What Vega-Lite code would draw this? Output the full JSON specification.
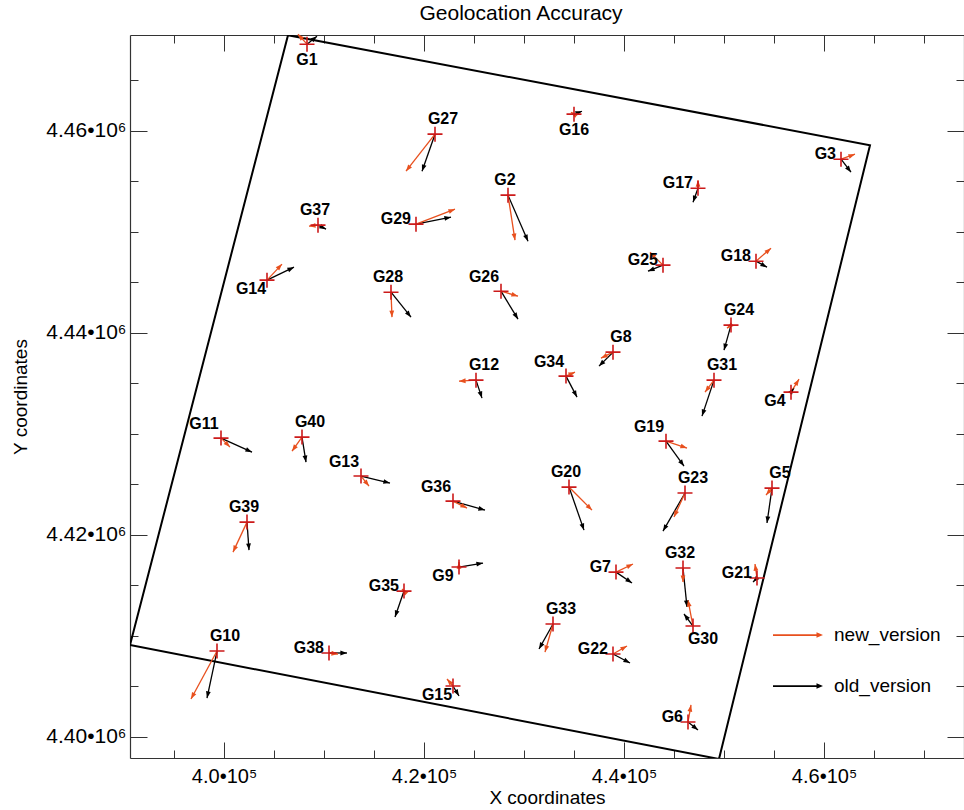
{
  "$schema": "https://vega.github.io/schema/vega-lite/v6.json",
  "width": 834,
  "height": 723,
  "autosize": {"type": "none"},
  "padding": {"left": 130, "top": 35, "right": 0, "bottom": 52},
  "background": "#ffffff",
  "title": {"text": "Geolocation Accuracy", "font": "Liberation Sans", "fontSize": 21, "fontWeight": "normal", "color": "#000000", "anchor": "middle", "dx": -26, "offset": 9},
  "config": {"view": {"stroke": null}, "font": "Liberation Sans"},
  "datasets": {
    "frame": [
      {"i": 0, "x": 406400, "y": 4469480},
      {"i": 1, "x": 464600, "y": 4458590},
      {"i": 2, "x": 449500, "y": 4397800},
      {"i": 3, "x": 390600, "y": 4409090},
      {"i": 4, "x": 406400, "y": 4469480}
    ],
    "gcp": [
      {"g": "G1", "x": 408300, "y": 4468590, "side": "S"},
      {"g": "G2", "x": 428400, "y": 4453640, "side": "N"},
      {"g": "G3", "x": 461700, "y": 4457200, "side": "W"},
      {"g": "G4", "x": 456700, "y": 4434130, "side": "SW"},
      {"g": "G5", "x": 454800, "y": 4424630, "side": "NE"},
      {"g": "G6", "x": 446400, "y": 4401460, "side": "W"},
      {"g": "G7", "x": 439200, "y": 4416310, "side": "W"},
      {"g": "G8", "x": 438900, "y": 4438090, "side": "NE"},
      {"g": "G9", "x": 423500, "y": 4416810, "side": "SW"},
      {"g": "G10", "x": 399300, "y": 4408490, "side": "NE"},
      {"g": "G11", "x": 399700, "y": 4429580, "side": "NW"},
      {"g": "G12", "x": 425200, "y": 4435320, "side": "NE"},
      {"g": "G13", "x": 413700, "y": 4425820, "side": "NW"},
      {"g": "G14", "x": 404300, "y": 4445220, "side": "SW"},
      {"g": "G15", "x": 422900, "y": 4405030, "side": "SW"},
      {"g": "G16", "x": 435000, "y": 4461660, "side": "S"},
      {"g": "G17", "x": 447400, "y": 4454330, "side": "W"},
      {"g": "G18", "x": 453200, "y": 4447100, "side": "W"},
      {"g": "G19", "x": 444200, "y": 4429280, "side": "NW"},
      {"g": "G20", "x": 434500, "y": 4424730, "side": "N"},
      {"g": "G21", "x": 453300, "y": 4415720, "side": "W"},
      {"g": "G22", "x": 438900, "y": 4408200, "side": "W"},
      {"g": "G23", "x": 446100, "y": 4424140, "side": "NE"},
      {"g": "G24", "x": 450700, "y": 4440770, "side": "NE"},
      {"g": "G25", "x": 443900, "y": 4446710, "side": "W"},
      {"g": "G26", "x": 427700, "y": 4444130, "side": "NW"},
      {"g": "G27", "x": 421100, "y": 4459680, "side": "NE"},
      {"g": "G28", "x": 416700, "y": 4444030, "side": "N"},
      {"g": "G29", "x": 419200, "y": 4450770, "side": "W"},
      {"g": "G30", "x": 446900, "y": 4410970, "side": "SE"},
      {"g": "G31", "x": 449000, "y": 4435320, "side": "NE"},
      {"g": "G32", "x": 445900, "y": 4416710, "side": "N"},
      {"g": "G33", "x": 432900, "y": 4411170, "side": "NE"},
      {"g": "G34", "x": 434200, "y": 4435720, "side": "NW"},
      {"g": "G35", "x": 418000, "y": 4414430, "side": "W"},
      {"g": "G36", "x": 422900, "y": 4423340, "side": "NW"},
      {"g": "G37", "x": 409400, "y": 4450670, "side": "N"},
      {"g": "G38", "x": 410500, "y": 4408300, "side": "W"},
      {"g": "G39", "x": 402300, "y": 4421260, "side": "N"},
      {"g": "G40", "x": 407800, "y": 4429680, "side": "NE"}
    ],
    "arrows": [
      {"g": "G1", "v": "old_version", "x": 408300, "y": 4468590, "tx": 409300, "ty": 4469380},
      {"g": "G2", "v": "old_version", "x": 428400, "y": 4453640, "tx": 430400, "ty": 4449080},
      {"g": "G3", "v": "old_version", "x": 461700, "y": 4457200, "tx": 462700, "ty": 4455910},
      {"g": "G4", "v": "old_version", "x": 456700, "y": 4434130, "tx": 457000, "ty": 4434530},
      {"g": "G5", "v": "old_version", "x": 454800, "y": 4424630, "tx": 454300, "ty": 4421170},
      {"g": "G6", "v": "old_version", "x": 446400, "y": 4401460, "tx": 447400, "ty": 4400670},
      {"g": "G7", "v": "old_version", "x": 439200, "y": 4416310, "tx": 440800, "ty": 4415230},
      {"g": "G8", "v": "old_version", "x": 438900, "y": 4438090, "tx": 437500, "ty": 4436710},
      {"g": "G9", "v": "old_version", "x": 423500, "y": 4416810, "tx": 425900, "ty": 4417200},
      {"g": "G10", "v": "old_version", "x": 399300, "y": 4408490, "tx": 398300, "ty": 4403840},
      {"g": "G11", "v": "old_version", "x": 399700, "y": 4429580, "tx": 402800, "ty": 4428190},
      {"g": "G12", "v": "old_version", "x": 425200, "y": 4435320, "tx": 425800, "ty": 4433540},
      {"g": "G13", "v": "old_version", "x": 413700, "y": 4425820, "tx": 416600, "ty": 4425130},
      {"g": "G14", "v": "old_version", "x": 404300, "y": 4445220, "tx": 407000, "ty": 4446510},
      {"g": "G15", "v": "old_version", "x": 422900, "y": 4405030, "tx": 423500, "ty": 4404040},
      {"g": "G16", "v": "old_version", "x": 435000, "y": 4461660, "tx": 435800, "ty": 4461950},
      {"g": "G17", "v": "old_version", "x": 447400, "y": 4454330, "tx": 446900, "ty": 4452940},
      {"g": "G18", "v": "old_version", "x": 453200, "y": 4447100, "tx": 454300, "ty": 4446510},
      {"g": "G19", "v": "old_version", "x": 444200, "y": 4429280, "tx": 446000, "ty": 4426810},
      {"g": "G20", "v": "old_version", "x": 434500, "y": 4424730, "tx": 436000, "ty": 4420470},
      {"g": "G21", "v": "old_version", "x": 453300, "y": 4415720, "tx": 452900, "ty": 4415320},
      {"g": "G22", "v": "old_version", "x": 438900, "y": 4408200, "tx": 440600, "ty": 4407310},
      {"g": "G23", "v": "old_version", "x": 446100, "y": 4424140, "tx": 443900, "ty": 4420370},
      {"g": "G24", "v": "old_version", "x": 450700, "y": 4440770, "tx": 450000, "ty": 4438290},
      {"g": "G25", "v": "old_version", "x": 443900, "y": 4446710, "tx": 442400, "ty": 4446110},
      {"g": "G26", "v": "old_version", "x": 427700, "y": 4444130, "tx": 429400, "ty": 4441360},
      {"g": "G27", "v": "old_version", "x": 421100, "y": 4459680, "tx": 419800, "ty": 4456010},
      {"g": "G28", "v": "old_version", "x": 416700, "y": 4444030, "tx": 418700, "ty": 4441560},
      {"g": "G29", "v": "old_version", "x": 419200, "y": 4450770, "tx": 422700, "ty": 4451460},
      {"g": "G30", "v": "old_version", "x": 446900, "y": 4410970, "tx": 446000, "ty": 4412160},
      {"g": "G31", "v": "old_version", "x": 449000, "y": 4435320, "tx": 447800, "ty": 4431760},
      {"g": "G32", "v": "old_version", "x": 445900, "y": 4416710, "tx": 446300, "ty": 4412850},
      {"g": "G33", "v": "old_version", "x": 432900, "y": 4411170, "tx": 431500, "ty": 4408690},
      {"g": "G34", "v": "old_version", "x": 434200, "y": 4435720, "tx": 435300, "ty": 4433640},
      {"g": "G35", "v": "old_version", "x": 418000, "y": 4414430, "tx": 417100, "ty": 4411860},
      {"g": "G36", "v": "old_version", "x": 422900, "y": 4423340, "tx": 426100, "ty": 4422450},
      {"g": "G37", "v": "old_version", "x": 409400, "y": 4450670, "tx": 410200, "ty": 4450270},
      {"g": "G38", "v": "old_version", "x": 410500, "y": 4408300, "tx": 412300, "ty": 4408300},
      {"g": "G39", "v": "old_version", "x": 402300, "y": 4421260, "tx": 402500, "ty": 4418490},
      {"g": "G40", "v": "old_version", "x": 407800, "y": 4429680, "tx": 408200, "ty": 4427200},
      {"g": "G1", "v": "new_version", "x": 408300, "y": 4468590, "tx": 407400, "ty": 4469580},
      {"g": "G2", "v": "new_version", "x": 428400, "y": 4453640, "tx": 429100, "ty": 4449180},
      {"g": "G3", "v": "new_version", "x": 461700, "y": 4457200, "tx": 463100, "ty": 4457700},
      {"g": "G4", "v": "new_version", "x": 456700, "y": 4434130, "tx": 457500, "ty": 4435420},
      {"g": "G5", "v": "new_version", "x": 454800, "y": 4424630, "tx": 454200, "ty": 4423940},
      {"g": "G6", "v": "new_version", "x": 446400, "y": 4401460, "tx": 446700, "ty": 4403150},
      {"g": "G7", "v": "new_version", "x": 439200, "y": 4416310, "tx": 440900, "ty": 4417110},
      {"g": "G8", "v": "new_version", "x": 438900, "y": 4438090, "tx": 437700, "ty": 4437500},
      {"g": "G9", "v": "new_version", "x": 423500, "y": 4416810, "tx": 423500, "ty": 4417300},
      {"g": "G10", "v": "new_version", "x": 399300, "y": 4408490, "tx": 396700, "ty": 4403740},
      {"g": "G11", "v": "new_version", "x": 399700, "y": 4429580, "tx": 400600, "ty": 4428690},
      {"g": "G12", "v": "new_version", "x": 425200, "y": 4435320, "tx": 423500, "ty": 4435220},
      {"g": "G13", "v": "new_version", "x": 413700, "y": 4425820, "tx": 414500, "ty": 4424830},
      {"g": "G14", "v": "new_version", "x": 404300, "y": 4445220, "tx": 405800, "ty": 4446810},
      {"g": "G15", "v": "new_version", "x": 422900, "y": 4405030, "tx": 422300, "ty": 4405720},
      {"g": "G16", "v": "new_version", "x": 435000, "y": 4461660, "tx": 434700, "ty": 4461850},
      {"g": "G17", "v": "new_version", "x": 447400, "y": 4454330, "tx": 447400, "ty": 4455120},
      {"g": "G18", "v": "new_version", "x": 453200, "y": 4447100, "tx": 454700, "ty": 4448390},
      {"g": "G19", "v": "new_version", "x": 444200, "y": 4429280, "tx": 446300, "ty": 4428590},
      {"g": "G20", "v": "new_version", "x": 434500, "y": 4424730, "tx": 436800, "ty": 4422450},
      {"g": "G21", "v": "new_version", "x": 453300, "y": 4415720, "tx": 453100, "ty": 4417110},
      {"g": "G22", "v": "new_version", "x": 438900, "y": 4408200, "tx": 440300, "ty": 4408990},
      {"g": "G23", "v": "new_version", "x": 446100, "y": 4424140, "tx": 445000, "ty": 4421760},
      {"g": "G24", "v": "new_version", "x": 450700, "y": 4440770, "tx": 450300, "ty": 4440470},
      {"g": "G25", "v": "new_version", "x": 443900, "y": 4446710, "tx": 442600, "ty": 4447990},
      {"g": "G26", "v": "new_version", "x": 427700, "y": 4444130, "tx": 429400, "ty": 4443640},
      {"g": "G27", "v": "new_version", "x": 421100, "y": 4459680, "tx": 418200, "ty": 4456010},
      {"g": "G28", "v": "new_version", "x": 416700, "y": 4444030, "tx": 416800, "ty": 4441560},
      {"g": "G29", "v": "new_version", "x": 419200, "y": 4450770, "tx": 423100, "ty": 4452250},
      {"g": "G30", "v": "new_version", "x": 446900, "y": 4410970, "tx": 446400, "ty": 4413540},
      {"g": "G31", "v": "new_version", "x": 449000, "y": 4435320, "tx": 448100, "ty": 4434130},
      {"g": "G32", "v": "new_version", "x": 445900, "y": 4416710, "tx": 445900, "ty": 4415320},
      {"g": "G33", "v": "new_version", "x": 432900, "y": 4411170, "tx": 432100, "ty": 4408390},
      {"g": "G34", "v": "new_version", "x": 434200, "y": 4435720, "tx": 435100, "ty": 4436110},
      {"g": "G35", "v": "new_version", "x": 418000, "y": 4414430, "tx": 417800, "ty": 4414630},
      {"g": "G36", "v": "new_version", "x": 422900, "y": 4423340, "tx": 424300, "ty": 4422650},
      {"g": "G37", "v": "new_version", "x": 409400, "y": 4450670, "tx": 408500, "ty": 4450570},
      {"g": "G38", "v": "new_version", "x": 410500, "y": 4408300, "tx": 411400, "ty": 4408200},
      {"g": "G39", "v": "new_version", "x": 402300, "y": 4421260, "tx": 400900, "ty": 4418290},
      {"g": "G40", "v": "new_version", "x": 407800, "y": 4429680, "tx": 406800, "ty": 4428290}
    ]
  },
  "resolve": {"axis": {"x": "independent", "y": "independent"}},
  "layer": [
    {
      "data": {"name": "frame"},
      "mark": {"type": "line", "color": "#000000", "strokeWidth": 2, "clip": true},
      "encoding": {
        "x": {"field": "x", "type": "quantitative", "scale": {"domain": [390600, 474000], "zero": false, "nice": false},
          "axis": {"orient": "bottom", "values": [395000, 400000, 405000, 410000, 415000, 420000, 425000, 430000, 435000, 440000, 445000, 450000, 455000, 460000, 465000, 470000],
            "labelExpr": "datum.value % 20000 === 0 ? format(datum.value / 100000, '.1f') + '•10⁵' : ''",
            "tickSize": {"condition": {"test": "datum.value % 20000 === 0", "value": -16}, "value": -8},
            "tickColor": "#333333", "tickWidth": 1, "domainColor": "#333333", "domainWidth": 1.2, "grid": false,
            "labelFont": "Liberation Sans", "labelFontSize": 20, "labelColor": "#000000", "labelPadding": 24, "labelFlush": false, "labelOverlap": false,
            "title": "X coordinates", "titleFont": "Liberation Sans", "titleFontSize": 19, "titleFontWeight": "normal", "titleColor": "#000000", "titlePadding": -6}},
        "y": {"field": "y", "type": "quantitative", "scale": {"domain": [4397900, 4469500], "zero": false, "nice": false},
          "axis": {"orient": "left", "values": [4400000, 4405000, 4410000, 4415000, 4420000, 4425000, 4430000, 4435000, 4440000, 4445000, 4450000, 4455000, 4460000, 4465000],
            "labelExpr": "datum.value % 20000 === 0 ? format(datum.value / 1000000, '.2f') + '•10⁶' : ''",
            "tickSize": {"condition": {"test": "datum.value % 20000 === 0", "value": -17}, "value": -8},
            "tickColor": "#333333", "tickWidth": 1, "domainColor": "#333333", "domainWidth": 1.2, "grid": false,
            "labelFont": "Liberation Sans", "labelFontSize": 21, "labelColor": "#000000", "labelPadding": 21, "labelFlush": false, "labelOverlap": false,
            "title": "Y coordinates", "titleFont": "Liberation Sans", "titleFontSize": 19, "titleFontWeight": "normal", "titleColor": "#000000", "titlePadding": 15}},
        "order": {"field": "i", "type": "quantitative"}
      }
    },
    {
      "data": {"name": "arrows"},
      "mark": {"type": "rule", "strokeWidth": 1.3},
      "encoding": {
        "x": {"field": "x", "type": "quantitative", "scale": {"domain": [390600, 474000], "zero": false, "nice": false}, "axis": null},
        "y": {"field": "y", "type": "quantitative", "scale": {"domain": [4397900, 4469500], "zero": false, "nice": false}, "axis": null},
        "x2": {"field": "tx"},
        "y2": {"field": "ty"},
        "color": {"field": "v", "type": "nominal", "scale": {"domain": ["new_version", "old_version"], "range": ["#e8501e", "#000000"]},
          "legend": {"orient": "none", "legendX": 643, "legendY": 575, "title": null, "symbolType": "M-1,-0.035H0.74V-0.11L1,0L0.74,0.11V0.035H-1Z", "symbolSize": 2500, "symbolStrokeWidth": 0, "symbolOpacity": 1, "labelFont": "Liberation Sans", "labelFontSize": 19, "labelColor": "#000000", "labelOffset": 11, "rowPadding": 16}}
      }
    },
    {
      "data": {"name": "arrows"},
      "transform": [{"calculate": "atan2((datum.tx - datum.x) / 100, (datum.ty - datum.y) / 99) * 180 / PI", "as": "angle"}],
      "mark": {"type": "point", "shape": "M0,0L-0.8,2.2L0.8,2.2Z", "size": 36, "filled": true, "opacity": 1, "strokeWidth": 0},
      "encoding": {
        "x": {"field": "tx", "type": "quantitative", "scale": {"domain": [390600, 474000], "zero": false, "nice": false}, "axis": null},
        "y": {"field": "ty", "type": "quantitative", "scale": {"domain": [4397900, 4469500], "zero": false, "nice": false}, "axis": null},
        "angle": {"field": "angle", "type": "quantitative", "scale": null},
        "color": {"field": "v", "type": "nominal", "scale": {"domain": ["new_version", "old_version"], "range": ["#e8501e", "#000000"]},
          "legend": {"orient": "none", "legendX": 643, "legendY": 575, "title": null, "symbolType": "M-1,-0.035H0.74V-0.11L1,0L0.74,0.11V0.035H-1Z", "symbolSize": 2500, "symbolStrokeWidth": 0, "symbolOpacity": 1, "labelFont": "Liberation Sans", "labelFontSize": 19, "labelColor": "#000000", "labelOffset": 11, "rowPadding": 16}}
      }
    },
    {
      "data": {"name": "gcp"},
      "mark": {"type": "point", "shape": "M-1,0H1M0,-1V1", "size": 225, "filled": false, "opacity": 1, "color": "#cc1a1a", "strokeWidth": 1.6},
      "encoding": {
        "x": {"field": "x", "type": "quantitative", "scale": {"domain": [390600, 474000], "zero": false, "nice": false},
          "axis": {"orient": "top", "values": [395000, 400000, 405000, 410000, 415000, 420000, 425000, 430000, 435000, 440000, 445000, 450000, 455000, 460000, 465000, 470000],
            "labels": false, "title": null, "grid": false,
            "tickSize": {"condition": {"test": "datum.value % 20000 === 0", "value": -16}, "value": -8},
            "tickColor": "#333333", "tickWidth": 1, "domainColor": "#333333", "domainWidth": 1.2}},
        "y": {"field": "y", "type": "quantitative", "scale": {"domain": [4397900, 4469500], "zero": false, "nice": false},
          "axis": {"orient": "right", "values": [4400000, 4405000, 4410000, 4415000, 4420000, 4425000, 4430000, 4435000, 4440000, 4445000, 4450000, 4455000, 4460000, 4465000],
            "labels": false, "title": null, "grid": false,
            "tickSize": {"condition": {"test": "datum.value % 20000 === 0", "value": -17}, "value": -8},
            "tickColor": "#333333", "tickWidth": 1, "domainColor": "#333333", "domainWidth": 1.2}}
      }
    },
    {
      "data": {"name": "gcp"},
      "transform": [{"filter": "datum.side === 'N'"}],
      "mark": {"type": "text", "font": "Liberation Sans", "fontSize": 16, "fontWeight": "bold", "color": "#000000", "align": "center", "baseline": "middle", "dx": -3, "dy": -15},
      "encoding": {
        "x": {"field": "x", "type": "quantitative", "scale": {"domain": [390600, 474000], "zero": false, "nice": false}, "axis": null},
        "y": {"field": "y", "type": "quantitative", "scale": {"domain": [4397900, 4469500], "zero": false, "nice": false}, "axis": null},
        "text": {"field": "g"}
      }
    },
    {
      "data": {"name": "gcp"},
      "transform": [{"filter": "datum.side === 'NE'"}],
      "mark": {"type": "text", "font": "Liberation Sans", "fontSize": 16, "fontWeight": "bold", "color": "#000000", "align": "center", "baseline": "middle", "dx": 8, "dy": -15},
      "encoding": {
        "x": {"field": "x", "type": "quantitative", "scale": {"domain": [390600, 474000], "zero": false, "nice": false}, "axis": null},
        "y": {"field": "y", "type": "quantitative", "scale": {"domain": [4397900, 4469500], "zero": false, "nice": false}, "axis": null},
        "text": {"field": "g"}
      }
    },
    {
      "data": {"name": "gcp"},
      "transform": [{"filter": "datum.side === 'NW'"}],
      "mark": {"type": "text", "font": "Liberation Sans", "fontSize": 16, "fontWeight": "bold", "color": "#000000", "align": "center", "baseline": "middle", "dx": -17, "dy": -14},
      "encoding": {
        "x": {"field": "x", "type": "quantitative", "scale": {"domain": [390600, 474000], "zero": false, "nice": false}, "axis": null},
        "y": {"field": "y", "type": "quantitative", "scale": {"domain": [4397900, 4469500], "zero": false, "nice": false}, "axis": null},
        "text": {"field": "g"}
      }
    },
    {
      "data": {"name": "gcp"},
      "transform": [{"filter": "datum.side === 'W'"}],
      "mark": {"type": "text", "font": "Liberation Sans", "fontSize": 16, "fontWeight": "bold", "color": "#000000", "align": "right", "baseline": "middle", "dx": -5, "dy": -5},
      "encoding": {
        "x": {"field": "x", "type": "quantitative", "scale": {"domain": [390600, 474000], "zero": false, "nice": false}, "axis": null},
        "y": {"field": "y", "type": "quantitative", "scale": {"domain": [4397900, 4469500], "zero": false, "nice": false}, "axis": null},
        "text": {"field": "g"}
      }
    },
    {
      "data": {"name": "gcp"},
      "transform": [{"filter": "datum.side === 'S'"}],
      "mark": {"type": "text", "font": "Liberation Sans", "fontSize": 16, "fontWeight": "bold", "color": "#000000", "align": "center", "baseline": "middle", "dx": 0, "dy": 16},
      "encoding": {
        "x": {"field": "x", "type": "quantitative", "scale": {"domain": [390600, 474000], "zero": false, "nice": false}, "axis": null},
        "y": {"field": "y", "type": "quantitative", "scale": {"domain": [4397900, 4469500], "zero": false, "nice": false}, "axis": null},
        "text": {"field": "g"}
      }
    },
    {
      "data": {"name": "gcp"},
      "transform": [{"filter": "datum.side === 'SE'"}],
      "mark": {"type": "text", "font": "Liberation Sans", "fontSize": 16, "fontWeight": "bold", "color": "#000000", "align": "center", "baseline": "middle", "dx": 10, "dy": 13},
      "encoding": {
        "x": {"field": "x", "type": "quantitative", "scale": {"domain": [390600, 474000], "zero": false, "nice": false}, "axis": null},
        "y": {"field": "y", "type": "quantitative", "scale": {"domain": [4397900, 4469500], "zero": false, "nice": false}, "axis": null},
        "text": {"field": "g"}
      }
    },
    {
      "data": {"name": "gcp"},
      "transform": [{"filter": "datum.side === 'SW'"}],
      "mark": {"type": "text", "font": "Liberation Sans", "fontSize": 16, "fontWeight": "bold", "color": "#000000", "align": "center", "baseline": "middle", "dx": -16, "dy": 9},
      "encoding": {
        "x": {"field": "x", "type": "quantitative", "scale": {"domain": [390600, 474000], "zero": false, "nice": false}, "axis": null},
        "y": {"field": "y", "type": "quantitative", "scale": {"domain": [4397900, 4469500], "zero": false, "nice": false}, "axis": null},
        "text": {"field": "g"}
      }
    }
  ]
}
